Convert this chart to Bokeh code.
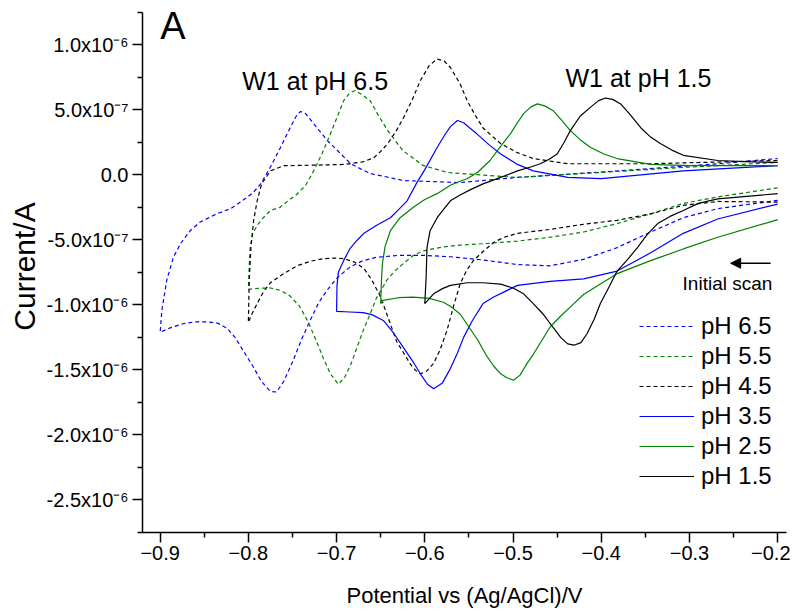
from bokeh.plotting import figure
from bokeh.models import FixedTicker, Label, Arrow, NormalHead, Range1d
from bokeh.embed import file_html
from bokeh.resources import INLINE

# Current values are in units of 1e-6 A (axis labels show the A scale)
# ---------------- pH 6.5 (blue dashed) ----------------
x_ph65 = [-0.200, -0.268, -0.307, -0.344, -0.382, -0.420, -0.458, -0.495, -0.534, -0.571,
          -0.600, -0.631, -0.655, -0.670, -0.685, -0.699, -0.710, -0.720, -0.730, -0.740,
          -0.750, -0.760, -0.768, -0.775, -0.785, -0.795, -0.806, -0.815, -0.824, -0.835,
          -0.847, -0.860, -0.874, -0.888, -0.900,
          -0.898, -0.8925, -0.885, -0.877, -0.866, -0.855, -0.836, -0.820, -0.809, -0.795,
          -0.786, -0.775, -0.765, -0.760, -0.752, -0.745, -0.741, -0.735, -0.728, -0.722,
          -0.710, -0.699, -0.684, -0.662, -0.624, -0.560, -0.495, -0.380, -0.268, -0.200]
i_ph65 = [-0.197, -0.26, -0.33, -0.44, -0.56, -0.65, -0.70, -0.69, -0.655, -0.63,
          -0.62, -0.62, -0.635, -0.66, -0.71, -0.79, -0.88, -0.98, -1.12, -1.27,
          -1.44, -1.59, -1.67, -1.665, -1.59, -1.47, -1.35, -1.25, -1.18, -1.14,
          -1.13, -1.13, -1.145, -1.175, -1.21,
          -1.04, -0.81, -0.634, -0.53, -0.43, -0.365, -0.30, -0.26, -0.21, -0.14,
          -0.07, 0.06, 0.19, 0.26, 0.37, 0.46, 0.487, 0.47, 0.41, 0.36,
          0.26, 0.187, 0.084, 0.01, -0.044, -0.06, -0.02, 0.03, 0.085, 0.125]

# ---------------- pH 5.5 (green dashed) ----------------
x_ph55 = [-0.200, -0.268, -0.307, -0.344, -0.382, -0.420, -0.458, -0.495, -0.534, -0.560,
          -0.580, -0.602, -0.613, -0.624, -0.634, -0.643, -0.655, -0.662, -0.670, -0.677,
          -0.684, -0.691, -0.698, -0.707, -0.715, -0.724, -0.733, -0.742, -0.753, -0.763,
          -0.775, -0.788, -0.800,
          -0.799, -0.798, -0.795, -0.789, -0.783, -0.775, -0.764, -0.755, -0.745, -0.735,
          -0.726, -0.716, -0.707, -0.699, -0.692, -0.685, -0.679, -0.672, -0.662, -0.652,
          -0.642, -0.625, -0.602, -0.574, -0.560, -0.495, -0.420, -0.307, -0.200]
i_ph55 = [-0.10, -0.17, -0.22, -0.30, -0.375, -0.44, -0.48, -0.51, -0.53, -0.54,
          -0.555, -0.585, -0.62, -0.68, -0.74, -0.81, -0.95, -1.07, -1.20, -1.33,
          -1.46, -1.56, -1.61, -1.53, -1.41, -1.26, -1.12, -1.01, -0.93, -0.89,
          -0.87, -0.872, -0.88,
          -0.70, -0.56, -0.45, -0.38, -0.33, -0.275, -0.25, -0.20, -0.15, -0.08,
          0.03, 0.17, 0.315, 0.45, 0.57, 0.63, 0.648, 0.62, 0.57, 0.45,
          0.34, 0.187, 0.072, 0.018, 0.01, -0.02, 0.01, 0.057, 0.095]

# ---------------- pH 4.5 (black dashed) ----------------
x_ph45 = [-0.200, -0.268, -0.307, -0.344, -0.382, -0.420, -0.458, -0.495, -0.510, -0.522,
          -0.534, -0.545, -0.553, -0.560, -0.567, -0.575, -0.583, -0.590, -0.598, -0.605,
          -0.611, -0.616, -0.624, -0.632, -0.641, -0.650, -0.660, -0.669, -0.680, -0.692,
          -0.703, -0.715, -0.730, -0.745, -0.760, -0.775, -0.783, -0.790, -0.796, -0.800,
          -0.799, -0.797, -0.794, -0.790, -0.785, -0.775, -0.760, -0.720, -0.690, -0.670,
          -0.658, -0.650, -0.642, -0.633, -0.624, -0.614, -0.605, -0.595, -0.586, -0.578,
          -0.571, -0.560, -0.552, -0.543, -0.534, -0.514, -0.495, -0.477, -0.438, -0.344,
          -0.200]
i_ph45 = [-0.21, -0.205, -0.235, -0.30, -0.35, -0.38, -0.42, -0.45, -0.48, -0.52,
          -0.59, -0.66, -0.74, -0.84, -1.0, -1.2, -1.35, -1.45, -1.51, -1.53,
          -1.50, -1.46, -1.37, -1.28, -1.11, -0.94, -0.81, -0.72, -0.67, -0.645,
          -0.64, -0.645, -0.665, -0.70, -0.76, -0.83, -0.90, -0.99, -1.07, -1.135,
          -0.81, -0.55, -0.35, -0.20, -0.07, 0.03, 0.07, 0.075, 0.08, 0.10,
          0.13, 0.18, 0.24, 0.33, 0.44, 0.58, 0.725, 0.84, 0.89, 0.875,
          0.825, 0.70, 0.57, 0.46, 0.36, 0.24, 0.17, 0.125, 0.085, 0.085,
          0.11]

# ---------------- pH 3.5 (blue solid) ----------------
x_ph35 = [-0.200, -0.268, -0.307, -0.344, -0.382, -0.420, -0.458, -0.495, -0.510, -0.522,
          -0.534, -0.546, -0.556, -0.563, -0.571, -0.580, -0.590, -0.597, -0.605, -0.614,
          -0.624, -0.635, -0.647, -0.660, -0.670, -0.685, -0.700,
          -0.6995, -0.698, -0.692, -0.685, -0.677, -0.669, -0.655, -0.639, -0.630, -0.620,
          -0.609, -0.600, -0.586, -0.578, -0.571, -0.563, -0.556, -0.549, -0.541, -0.527,
          -0.514, -0.495, -0.477, -0.438, -0.400, -0.307, -0.200]
i_ph35 = [-0.225, -0.34, -0.45, -0.60, -0.74, -0.80, -0.82, -0.85, -0.90, -0.94,
          -0.99, -1.12, -1.25, -1.37, -1.49, -1.60, -1.645, -1.61, -1.53, -1.43,
          -1.33, -1.22, -1.12, -1.075, -1.06, -1.055, -1.05,
          -0.85, -0.75, -0.66, -0.57, -0.505, -0.45, -0.39, -0.33, -0.27, -0.20,
          -0.06, 0.04, 0.21, 0.30, 0.37, 0.417, 0.40, 0.36, 0.315, 0.23,
          0.16, 0.08, 0.03, -0.02, -0.03, 0.03, 0.07]

# ---------------- pH 2.5 (green solid) ----------------
x_ph25 = [-0.200, -0.268, -0.307, -0.344, -0.382, -0.401, -0.420, -0.431, -0.445, -0.458,
          -0.467, -0.477, -0.485, -0.492, -0.4995, -0.507, -0.514, -0.522, -0.531, -0.540,
          -0.550, -0.560, -0.571, -0.579, -0.595, -0.613, -0.630, -0.647, -0.650,
          -0.649, -0.648, -0.645, -0.639, -0.628, -0.613, -0.600, -0.586, -0.571, -0.560,
          -0.552, -0.540, -0.526, -0.515, -0.503, -0.495, -0.488, -0.480, -0.4725, -0.464,
          -0.454, -0.445, -0.435, -0.424, -0.412, -0.397, -0.382, -0.344, -0.300, -0.200]
i_ph25 = [-0.345, -0.48, -0.57, -0.66, -0.76, -0.84, -0.92, -0.99, -1.08, -1.17,
          -1.27, -1.38, -1.46, -1.54, -1.58, -1.56, -1.53, -1.47, -1.38, -1.27,
          -1.17, -1.07, -1.01, -0.98, -0.95, -0.94, -0.945, -0.965, -0.99,
          -0.79, -0.68, -0.55, -0.43, -0.33, -0.25, -0.19, -0.145, -0.08, -0.05,
          -0.03, 0.02, 0.11, 0.21, 0.315, 0.40, 0.47, 0.52, 0.545, 0.53,
          0.49, 0.42, 0.34, 0.27, 0.21, 0.16, 0.125, 0.08, 0.07, 0.07]

# ---------------- pH 1.5 (black solid) ----------------
x_ph15 = [-0.200, -0.268, -0.290, -0.307, -0.322, -0.336, -0.348, -0.359, -0.370, -0.382,
          -0.391, -0.401, -0.408, -0.416, -0.423, -0.431, -0.438, -0.446, -0.455, -0.466,
          -0.477, -0.488, -0.500, -0.514, -0.534, -0.552, -0.571, -0.580, -0.590, -0.600,
          -0.5985, -0.5975, -0.594, -0.586, -0.578, -0.571, -0.560, -0.547, -0.534, -0.514,
          -0.495, -0.480, -0.469, -0.459, -0.450, -0.442, -0.435, -0.424, -0.412, -0.403,
          -0.395, -0.387, -0.378, -0.367, -0.355, -0.344, -0.333, -0.320, -0.307, -0.268,
          -0.230, -0.200]
i_ph15 = [-0.145, -0.185, -0.22, -0.275, -0.32, -0.375, -0.46, -0.56, -0.65, -0.74,
          -0.86, -0.99, -1.11, -1.22, -1.29, -1.31, -1.30, -1.25, -1.17, -1.07,
          -0.99, -0.915, -0.87, -0.84, -0.83, -0.83, -0.85, -0.875, -0.915, -0.99,
          -0.79, -0.56, -0.43, -0.33, -0.26, -0.20, -0.155, -0.11, -0.07, -0.02,
          0.03, 0.06, 0.085, 0.12, 0.16, 0.25, 0.34, 0.45, 0.52, 0.57,
          0.59, 0.58, 0.545, 0.46, 0.36, 0.29, 0.24, 0.19, 0.15, 0.11,
          0.10, 0.095]

series = [
    ("pH 6.5", x_ph65, i_ph65, "#0000FF", "4 3"),
    ("pH 5.5", x_ph55, i_ph55, "#008000", "4 3"),
    ("pH 4.5", x_ph45, i_ph45, "#000000", "4 3"),
    ("pH 3.5", x_ph35, i_ph35, "#0000FF", "solid"),
    ("pH 2.5", x_ph25, i_ph25, "#008000", "solid"),
    ("pH 1.5", x_ph15, i_ph15, "#000000", "solid"),
]

x_ticks = [-0.9, -0.8, -0.7, -0.6, -0.5, -0.4, -0.3, -0.2]
x_minor = [-0.85, -0.75, -0.65, -0.55, -0.45, -0.35, -0.25]
y_ticks = [1.0, 0.5, 0.0, -0.5, -1.0, -1.5, -2.0, -2.5]
y_minor = [1.25, 0.75, 0.25, -0.25, -0.75, -1.25, -1.75, -2.25, -2.75]
y_tick_labels = ["1.0x10\u207b\u2076", "5.0x10\u207b\u2077", "0.0", "-5.0x10\u207b\u2077",
                 "-1.0x10\u207b\u2076", "-1.5x10\u207b\u2076", "-2.0x10\u207b\u2076",
                 "-2.5x10\u207b\u2076"]

FONT = "Liberation Sans"

p = figure(width=790, height=613, output_backend="svg", toolbar_location=None,
           x_range=Range1d(-0.92, -0.19), y_range=Range1d(-2.75, 1.34),
           min_border_left=142, min_border_right=4, min_border_top=0, min_border_bottom=81)
p.outline_line_color = None
p.grid.visible = False
p.background_fill_color = "white"
p.border_fill_color = "white"

for name, xs, ys, color, dash in series:
    p.line(xs, ys, line_color=color, line_width=1.2, line_dash=dash, legend_label=name)

for ax in (p.xaxis[0], p.yaxis[0]):
    ax.axis_line_color = "black"
    ax.axis_line_width = 1.5
    ax.major_tick_line_color = "black"
    ax.major_tick_line_width = 1.5
    ax.minor_tick_line_color = "black"
    ax.minor_tick_line_width = 1.5
    ax.major_tick_out = 10
    ax.major_tick_in = 0
    ax.minor_tick_out = 5
    ax.minor_tick_in = 0
    ax.major_label_text_font = FONT
    ax.major_label_text_color = "black"
    ax.axis_label_text_font = FONT
    ax.axis_label_text_font_style = "normal"
    ax.axis_label_text_color = "black"

p.yaxis.bounds = (-2.75, 1.25)
p.xaxis.ticker = FixedTicker(ticks=x_ticks, minor_ticks=x_minor)
p.yaxis.ticker = FixedTicker(ticks=y_ticks, minor_ticks=y_minor)
p.yaxis.major_label_overrides = {v: t for v, t in zip(y_ticks, y_tick_labels)}
p.xaxis.major_label_text_font_size = "20px"
p.yaxis.major_label_text_font_size = "20px"
p.xaxis.major_label_standoff = 3
p.yaxis.major_label_standoff = 4
p.xaxis.axis_label = "Potential vs (Ag/AgCl)/V"
p.yaxis.axis_label = "Current/A"
p.xaxis.axis_label_text_font_size = "22px"
p.yaxis.axis_label_text_font_size = "30px"
p.xaxis.axis_label_standoff = 20
p.yaxis.axis_label_standoff = 3

leg = p.legend[0]
leg.location = (497, 42)
leg.background_fill_alpha = 0
leg.border_line_color = None
leg.label_text_font = FONT
leg.label_text_color = "black"
leg.label_text_font_size = "24px"
leg.glyph_width = 55
leg.glyph_height = 28
leg.label_height = 28
leg.spacing = 2
leg.padding = 0
leg.margin = 0
leg.label_standoff = 7

# annotations
p.add_layout(Label(x=-0.9, y=0.979, text="A", text_font=FONT, text_font_size="38px",
                   text_color="black"))
p.add_layout(Label(x=-0.807, y=0.61, text="W1 at pH 6.5", text_font=FONT,
                   text_font_size="25px", text_color="black"))
p.add_layout(Label(x=-0.4405, y=0.633, text="W1 at pH 1.5", text_font=FONT,
                   text_font_size="25px", text_color="black"))
p.add_layout(Label(x=-0.3078, y=-0.914, text="Initial scan", text_font=FONT,
                   text_font_size="19px", text_color="black"))
p.add_layout(Arrow(x_start=-0.208, y_start=-0.68, x_end=-0.2533, y_end=-0.68,
                   line_color="black", line_width=1.5,
                   end=NormalHead(size=10, fill_color="black", line_color="black")))

open("out.html", "w").write(file_html(p, INLINE))
